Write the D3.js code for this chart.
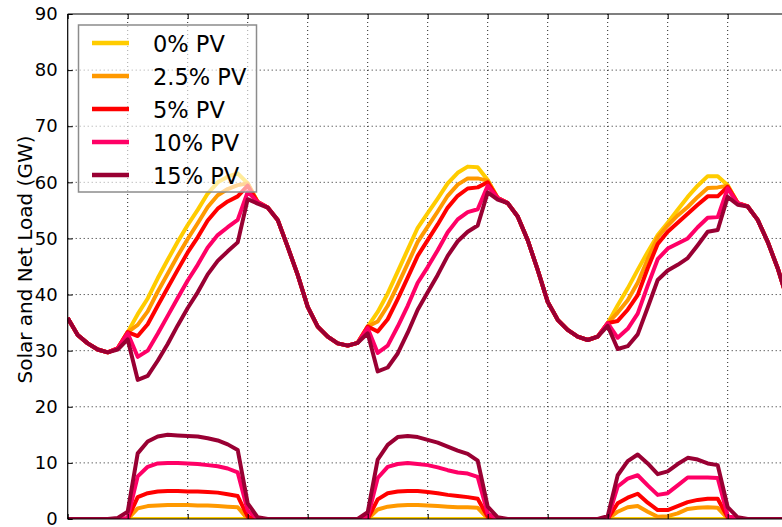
<!DOCTYPE html>
<html><head><meta charset="utf-8">
<script src="https://cdn.jsdelivr.net/npm/d3@7/dist/d3.min.js"></script>
<style>
body{margin:0;background:#fff;}
svg{display:block;font-family:"DejaVu Sans",sans-serif;}
</style>
</head><body>
<svg id="chart" width="782" height="527"></svg>
<script>
// hour index 0..72
const hours = d3.range(0, 73);
const seriesNames = ["0% PV", "2.5% PV", "5% PV", "10% PV", "15% PV"];
const seriesColors = ["#FFCC00", "#FF9900", "#FF0000", "#FF0066", "#990033"];

// Net load (GW)
const net0 = [35.8,32.8,31.3,30.2,29.7,30.4,33.3,36.5,39.3,42.9,46.2,49.4,52.4,55.1,58.0,60.0,61.0,61.6,59.8,56.5,55.5,53.3,48.5,43.5,
  37.8,34.3,32.5,31.3,30.9,31.4,34.3,36.9,40.2,44.1,48.0,51.9,54.5,57.1,59.8,61.7,62.8,62.7,60.4,57.2,56.3,53.9,49.7,44.4,
  38.7,35.5,33.7,32.5,31.9,32.5,34.9,38.1,41.1,44.4,47.6,50.6,52.8,55.1,57.4,59.4,61.1,61.1,59.5,56.3,55.7,53.3,49.4,44.7,39.0];
const net25 = [35.8,32.8,31.3,30.2,29.7,30.4,33.3,34.6,37.0,40.5,43.7,46.9,49.9,52.7,55.6,57.7,58.8,59.5,59.8,56.5,55.5,53.3,48.5,43.5,
  37.8,34.3,32.5,31.3,30.9,31.4,34.3,35.2,38.0,41.7,45.5,49.4,52.1,54.8,57.6,59.6,60.7,60.7,60.3,57.2,56.3,53.9,49.7,44.4,
  38.7,35.5,33.7,32.5,31.9,32.5,34.9,36.8,39.0,42.1,46.3,50.2,52.3,54.1,55.6,57.4,59.0,59.1,59.4,56.3,55.7,53.3,49.4,44.7,39.0];
const net5 = [35.8,32.8,31.3,30.2,29.7,30.4,33.3,32.6,34.7,38.0,41.2,44.4,47.5,50.2,53.2,55.3,56.6,57.5,59.4,56.5,55.5,53.3,48.5,43.5,
  37.8,34.3,32.5,31.3,30.9,31.4,34.3,33.4,35.6,39.2,43.0,46.9,49.7,52.5,55.5,57.6,58.9,59.1,60.0,57.2,56.3,53.9,49.7,44.4,
  38.7,35.5,33.7,32.5,31.9,32.5,34.9,35.3,37.3,39.9,44.7,49.0,51.2,52.8,54.4,56.0,57.5,57.5,59.2,56.3,55.7,53.3,49.4,44.7,39.0];
const net10 = [35.8,32.8,31.3,30.2,29.7,30.4,33.1,28.9,30.0,33.0,36.2,39.4,42.5,45.3,48.4,50.6,52.0,53.3,58.3,56.5,55.5,53.3,48.5,43.5,
  37.8,34.3,32.5,31.3,30.9,31.4,34.0,29.6,30.9,34.3,38.0,42.1,44.9,47.9,51.1,53.4,54.7,55.2,59.4,57.2,56.3,53.9,49.7,44.4,
  38.7,35.5,33.7,32.5,31.9,32.5,34.9,32.3,33.9,36.6,41.6,46.3,48.2,49.1,50.0,52.0,53.7,53.8,58.9,56.3,55.7,53.3,49.4,44.7,39.0];
const net15 = [35.8,32.8,31.3,30.2,29.7,30.2,32.0,24.8,25.5,28.2,31.2,34.5,37.6,40.4,43.6,46.0,47.7,49.3,57.0,56.2,55.5,53.3,48.5,43.5,
  37.8,34.3,32.5,31.3,30.9,31.4,33.1,26.3,27.0,29.5,33.2,37.3,40.4,43.5,46.9,49.5,51.2,52.3,58.2,56.9,56.3,53.9,49.7,44.4,
  38.7,35.5,33.7,32.5,31.9,32.5,34.4,30.3,30.8,32.9,37.7,42.6,44.3,45.3,46.5,48.8,51.2,51.5,57.4,56.0,55.7,53.3,49.4,44.7,39.0];

// Solar output (GW)
const solar0 = [0,0,0,0,0,0,0,0,0,0,0,0,0,0,0,0,0,0,0,0,0,0,0,0,
  0,0,0,0,0,0,0,0,0,0,0,0,0,0,0,0,0,0,0,0,0,0,0,0,
  0,0,0,0,0,0,0,0,0,0,0,0,0,0,0,0,0,0,0,0,0,0,0,0,0];
const solar25 = [0,0,0,0,0,0,0,1.9,2.3,2.4,2.5,2.5,2.5,2.4,2.4,2.3,2.2,2.1,0,0,0,0,0,0,
  0,0,0,0,0,0,0,1.7,2.2,2.4,2.5,2.5,2.4,2.3,2.2,2.1,2.1,2.0,0.1,0,0,0,0,0,
  0,0,0,0,0,0,0,1.3,2.1,2.3,1.3,0.4,0.5,1.0,1.8,2.0,2.1,2.0,0.1,0,0,0,0,0,0];
const solar5 = [0,0,0,0,0,0,0,3.9,4.6,4.9,5.0,5.0,4.9,4.9,4.8,4.7,4.4,4.1,0.4,0,0,0,0,0,
  0,0,0,0,0,0,0,3.5,4.6,4.9,5.0,5.0,4.8,4.6,4.3,4.1,3.9,3.6,0.4,0,0,0,0,0,
  0,0,0,0,0,0,0,2.8,3.8,4.5,2.9,1.6,1.6,2.3,3.0,3.4,3.6,3.6,0.3,0,0,0,0,0,0];
const solar10 = [0,0,0,0,0,0,0.2,7.6,9.3,9.9,10.0,10.0,9.9,9.8,9.6,9.4,9.0,8.3,1.5,0,0,0,0,0,
  0,0,0,0,0,0,0.3,7.3,9.3,9.8,10.0,9.8,9.6,9.2,8.7,8.3,8.1,7.5,1.0,0,0,0,0,0,
  0,0,0,0,0,0,0,5.8,7.2,7.8,6.0,4.3,4.6,6.0,7.4,7.4,7.4,7.3,0.6,0,0,0,0,0,0];
const solar15 = [0,0,0,0,0,0.2,1.3,11.7,13.8,14.7,15.0,14.9,14.8,14.7,14.4,14.0,13.3,12.3,2.8,0.3,0,0,0,0,
  0,0,0,0,0,0,1.2,10.6,13.2,14.6,14.8,14.6,14.1,13.6,12.9,12.2,11.6,10.4,2.2,0.3,0,0,0,0,
  0,0,0,0,0,0,0.5,7.8,10.3,11.5,9.9,8.0,8.5,9.8,10.9,10.6,9.9,9.6,2.1,0.3,0,0,0,0,0];

const yTicks = [0,10,20,30,40,50,60,70,80,90];
const xGridHours = [0,6,12,18,24,30,36,42,48,54,60,66,72];
const yLabel = "Solar and Net Load (GW)";

const netSeries = [net0, net25, net5, net10, net15];
const solarSeries = [solar0, solar25, solar5, solar10, solar15];

const svg = d3.select("#chart");
const L = 67.7, R = 787.7, T = 14, B = 519;
const x = d3.scaleLinear().domain([0, 72]).range([L, R]);
const y = d3.scaleLinear().domain([0, 90]).range([B, T]);

svg.append("defs").append("clipPath").attr("id", "plotclip")
  .append("rect").attr("x", L).attr("y", T).attr("width", R - L).attr("height", B - T);

// grid
const grid = svg.append("g");
grid.selectAll("line.h").data(yTicks.filter(d => d > 0 && d < 90)).enter().append("line")
  .attr("x1", L).attr("x2", R).attr("y1", d => y(d)).attr("y2", d => y(d))
  .attr("stroke", "#222").attr("stroke-width", 1).attr("stroke-dasharray", "1,3");
grid.selectAll("line.v").data(xGridHours.filter(d => d > 0 && d < 72)).enter().append("line")
  .attr("y1", T).attr("y2", B).attr("x1", d => x(d)).attr("x2", d => x(d))
  .attr("stroke", "#222").attr("stroke-width", 1).attr("stroke-dasharray", "1,3");

// lines
const line = d3.line().x((d, i) => x(hours[i])).y(d => y(d));
const plot = svg.append("g").attr("clip-path", "url(#plotclip)");
for (let i = 0; i < seriesNames.length; i++) {
  plot.append("path").datum(netSeries[i]).attr("d", line)
    .attr("fill", "none").attr("stroke", seriesColors[i]).attr("stroke-width", 4)
    .attr("stroke-linejoin", "round");
  plot.append("path").datum(solarSeries[i]).attr("d", line)
    .attr("fill", "none").attr("stroke", seriesColors[i]).attr("stroke-width", 4)
    .attr("stroke-linejoin", "round");
}

// frame
const frame = svg.append("g").attr("stroke", "#000").attr("stroke-width", 1.2);
frame.append("line").attr("x1", L).attr("x2", L).attr("y1", T).attr("y2", B);
frame.append("line").attr("x1", L).attr("x2", R).attr("y1", T).attr("y2", T);
frame.append("line").attr("x1", L).attr("x2", R).attr("y1", B).attr("y2", B);

// y axis ticks (inward) and labels
const yAxis = d3.axisLeft(y).tickValues(yTicks).tickSize(-5).tickPadding(10).tickFormat(d3.format("d"));
const gy = svg.append("g").attr("transform", `translate(${L},0)`).call(yAxis);
gy.select(".domain").remove();
gy.selectAll("text").attr("font-size", 18).attr("font-family", "DejaVu Sans").attr("fill", "#000");
gy.selectAll("line").attr("stroke", "#000");

// x ticks (inward, no labels visible)
const xAxisB = d3.axisBottom(x).tickValues(xGridHours).tickSize(-5).tickFormat("");
const gxb = svg.append("g").attr("transform", `translate(0,${B})`).call(xAxisB);
gxb.select(".domain").remove();
const xAxisT = d3.axisTop(x).tickValues(xGridHours).tickSize(-5).tickFormat("");
const gxt = svg.append("g").attr("transform", `translate(0,${T})`).call(xAxisT);
gxt.select(".domain").remove();

// y label
svg.append("text").attr("transform", "translate(31.5,383.5) rotate(-90)")
  .attr("text-anchor", "start").attr("font-size", 20).attr("fill", "#000").text(yLabel);

// legend
const lg = svg.append("g");
lg.append("rect").attr("x", 78.5).attr("y", 25).attr("width", 178).attr("height", 167)
  .attr("fill", "#fff").attr("fill-opacity", 0.6).attr("stroke", "#8c8c8c").attr("stroke-width", 1.5);
seriesNames.forEach((name, i) => {
  const ly = 43 + i * 33;
  lg.append("line").attr("x1", 92).attr("x2", 129).attr("y1", ly).attr("y2", ly)
    .attr("stroke", seriesColors[i]).attr("stroke-width", 4.5);
  lg.append("text").attr("x", 153).attr("y", ly + 8.5).attr("font-size", 22.5)
    .attr("fill", "#000").text(name);
});
</script>
</body></html>
